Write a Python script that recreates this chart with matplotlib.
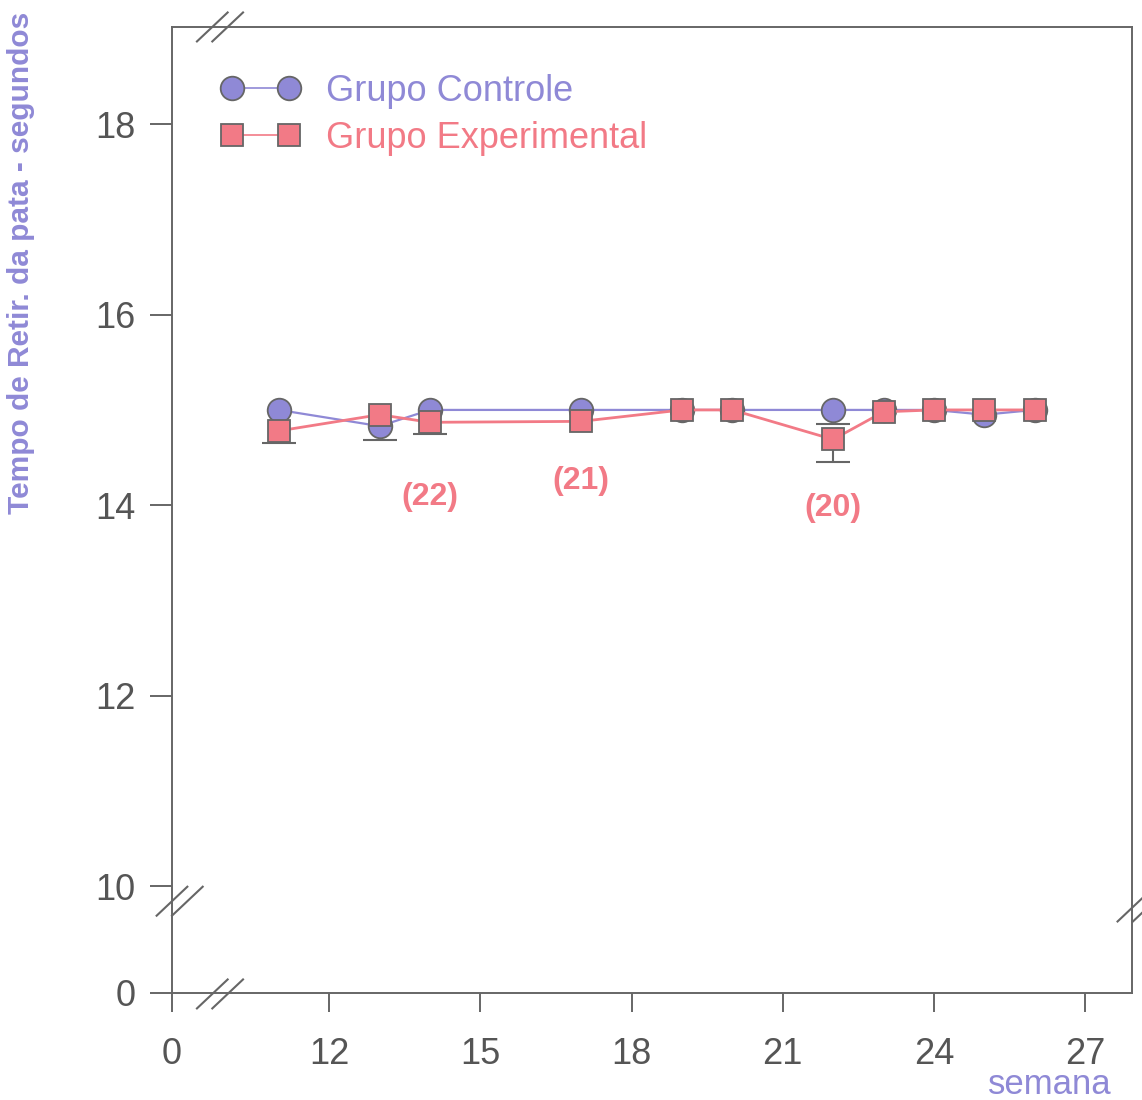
import numpy as np
import matplotlib.pyplot as plt
from matplotlib.lines import Line2D
plt.rcParams['font.family'] = ['Liberation Sans', 'DejaVu Sans']

# data
semana = [11, 13, 14, 17, 19, 20, 22, 23, 24, 25, 26]
controle = [15.0, 14.83, 15.0, 15.0, 15.0, 15.0, 15.0, 15.0, 15.0, 14.95, 15.0]
controle_err = [0.0, 0.15, 0.0, 0.0, 0.0, 0.0, 0.15, 0.0, 0.0, 0.0, 0.0]
experimental = [14.78, 14.95, 14.87, 14.88, 15.0, 15.0, 14.69, 14.98, 15.0, 15.0, 15.0]
experimental_err = [0.13, 0.0, 0.12, 0.0, 0.0, 0.0, 0.24, 0.0, 0.0, 0.0, 0.0]
notas = ['(22)', '(21)', '(20)']
notas_x = [14.0, 17.0, 22.0]
notas_y = [14.09, 14.25, 13.97]

xticks = [12, 15, 18, 21, 24, 27]
yticks = [10, 12, 14, 16, 18]
x0, x1 = 8.88, 27.93
y0, y1 = 8.88, 19.02

azul = '#8f89d6'
rosa = '#f27a86'
cinza = '#666666'

fig = plt.figure(figsize=(11.42, 11.0), dpi=100)
ax = fig.add_axes([0.1506, 0.0973, 0.8406, 0.8782])


def barras(x, y, err):
    x = np.array(x)
    y = np.array(y)
    err = np.array(err)
    m = err > 0
    ax.vlines(x[m], y[m] - err[m], y[m], color=cinza, lw=1.5, zorder=2)
    ax.plot(x[m], y[m] - err[m], ls='none', marker='_', ms=24, mew=1.5,
            color=cinza, zorder=2)


barras(semana, controle, controle_err)
barras(semana, experimental, experimental_err)
ax.plot(semana, controle, color=azul, lw=1.6, marker='o', ms=17,
        mfc=azul, mec=cinza, mew=1.3, zorder=3)
ax.plot(semana, experimental, color=rosa, lw=2.0, marker='s', ms=15.5,
        mfc=rosa, mec=cinza, mew=1.3, zorder=4)

for t, x, y in zip(notas, notas_x, notas_y):
    ax.text(x, y, t, color=rosa, fontsize=23, fontweight='bold', ha='center', va='center')

ax.set_xlim(x0, x1)
ax.set_ylim(y0, y1)
ax.set_xticks([x0] + xticks)
ax.set_xticklabels(['0'] + [str(v) for v in xticks])
ax.set_yticks([y0] + yticks)
ax.set_yticklabels(['0'] + [str(v) for v in yticks])
ax.tick_params(axis='y', direction='out', length=16, width=1.4, color=cinza,
               labelsize=26, labelcolor='#555555', pad=10)
ax.tick_params(axis='x', direction='out', length=14, width=1.4, color=cinza,
               labelsize=26, labelcolor='#555555', pad=18)
for s in ax.spines.values():
    s.set_color(cinza)
    s.set_linewidth(1.4)


# break marks
def quebra(xa, ya):
    for dx in (0, 0.016):
        ax.plot([xa + dx, xa + dx + 0.032], [ya, ya + 0.03], color=cinza, lw=1.5,
                transform=ax.transAxes, clip_on=False, zorder=6)


quebra(0.026, 0.985)
quebra(-0.016, 0.08)
quebra(0.026, -0.016)
quebra(0.985, 0.074)

ax.set_ylabel('Tempo de Retir. da pata - segundos', color=azul, fontsize=21.5,
              fontweight='bold')
ax.yaxis.set_label_coords(-0.143, 0.756)
ax.text(0.979, -0.0945, 'semana', transform=ax.transAxes, color=azul, fontsize=25,
        ha='right', va='center')

handles = [Line2D([], [], color=azul, lw=1.2, marker='o', ms=17, mfc=azul, mec=cinza, mew=1.3),
           Line2D([], [], color=rosa, lw=1.2, marker='s', ms=16.5, mfc=rosa, mec=cinza, mew=1.3)]
leg = ax.legend(handles, ['Grupo Controle', 'Grupo Experimental'], loc='upper left',
                bbox_to_anchor=(0.017, 0.985), frameon=False, fontsize=26,
                numpoints=2, handlelength=2.2, handletextpad=0.7, labelspacing=0.33)
for txt, c in zip(leg.get_texts(), [azul, rosa]):
    txt.set_color(c)

fig.savefig('out.png', dpi=100)
